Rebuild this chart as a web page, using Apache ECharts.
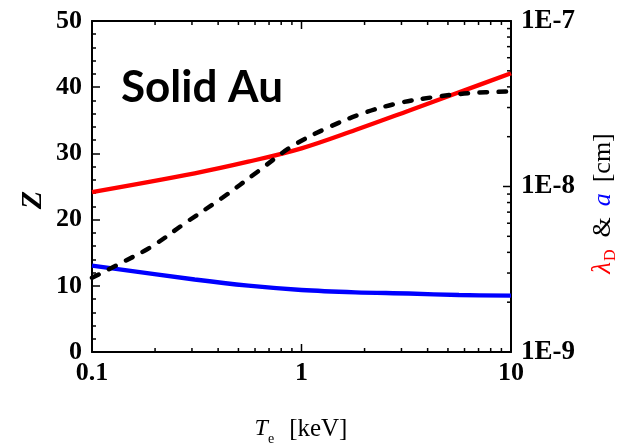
<!DOCTYPE html>
<html>
<head>
<meta charset="utf-8">
<script src="https://cdn.jsdelivr.net/npm/echarts@6/dist/echarts.min.js"></script>
<style>html,body{margin:0;padding:0;background:#fff}#c{width:626px;height:445px}</style>
</head>
<body>
<div id="c"></div>
<script>
// Mean ionization Z vs T_e [keV] (left axis)
const tZ = [0.1, 0.131, 0.192, 0.282, 0.419, 0.615, 0.904, 1.338, 1.982, 2.91, 4.28, 6.31, 10];
const Z  = [11.2, 13.1, 15.9, 19.6, 23.3, 27.2, 31.1, 33.9, 36.1, 37.6, 38.5, 39.1, 39.35];
// Debye length lambda_D and ion sphere radius a [cm] vs T_e [keV] (right axis)
const tL = [0.1, 0.309, 0.557, 1, 1.807, 3.25, 5.65, 10];
const lambdaD = [9.26e-9, 1.202e-8, 1.412e-8, 1.701e-8, 2.195e-8, 2.871e-8, 3.709e-8, 4.83e-8];
const aRadius = [3.324e-9, 2.742e-9, 2.516e-9, 2.370e-9, 2.295e-9, 2.257e-9, 2.21e-9, 2.189e-9];
// Tick values
const xMajor = [0.1, 1, 10];
const xMinor = [0.2,0.3,0.4,0.5,0.6,0.7,0.8,0.9,2,3,4,5,6,7,8,9];
const rMajor = [1e-9, 1e-8, 1e-7];
const rMinor = [2e-9,3e-9,4e-9,5e-9,6e-9,7e-9,8e-9,9e-9,2e-8,3e-8,4e-8,5e-8,6e-8,7e-8,8e-8,9e-8];

const serif = "'Liberation Serif', 'Times New Roman', serif";
const lineStyle = {color: '#000', width: 2};
const chart = echarts.init(document.getElementById('c'));
const pairs = (xs, ys) => xs.map((t, i) => [t, ys[i]]);
const xFmt = v => { const m = {'-1': '0.1', '0': '1', '1': '10'}; return m[String(Math.round(Math.log10(v)))]; };
const rFmt = v => '1E' + Math.round(Math.log10(v));

// ticks drawn through the axes' scales
function xTickSeries(vals, len) {
  return {
    type: 'custom', xAxisIndex: 0, yAxisIndex: 0, silent: true, clip: false, z: 5,
    data: vals.map(v => [v, 0]),
    renderItem: (params, api) => {
      const v = api.value(0);
      const pb = api.coord([v, 0]);
      const pt = api.coord([v, 50]);
      const st = {stroke: '#000', lineWidth: 1.5};
      return {type: 'group', children: [
        {type: 'line', shape: {x1: pb[0], y1: pb[1], x2: pb[0], y2: pb[1] - len}, style: st},
        {type: 'line', shape: {x1: pt[0], y1: pt[1], x2: pt[0], y2: pt[1] + len}, style: st}
      ]};
    }
  };
}
function rTickSeries(vals, len) {
  return {
    type: 'custom', xAxisIndex: 0, yAxisIndex: 1, silent: true, clip: false, z: 5,
    data: vals.map(v => [10, v]),
    renderItem: (params, api) => {
      const p = api.coord([api.value(0), api.value(1)]);
      return {type: 'line', shape: {x1: p[0], y1: p[1], x2: p[0] - len, y2: p[1]}, style: {stroke: '#000', lineWidth: 1.5}};
    }
  };
}

chart.setOption({
  animation: false,
  grid: {left: 92, right: 115, top: 21, bottom: 93, outerBoundsMode: 'none'},
  xAxis: [
    {
      type: 'log', logBase: 10, min: 0.1, max: 10, position: 'bottom',
      splitLine: {show: false},
      axisLine: {show: true, lineStyle: lineStyle},
      axisTick: {show: false},
      axisLabel: {show: true, customValues: xMajor, formatter: xFmt, color: '#000', fontFamily: serif, fontWeight: 'bold', fontSize: 26, margin: 8}
    },
    {
      type: 'log', logBase: 10, min: 0.1, max: 10, position: 'top',
      splitLine: {show: false},
      axisLine: {show: true, lineStyle: lineStyle},
      axisTick: {show: false},
      axisLabel: {show: false}
    }
  ],
  yAxis: [
    {
      type: 'value', min: 0, max: 50, interval: 10, position: 'left',
      splitLine: {show: false},
      axisLine: {show: true, lineStyle: lineStyle},
      axisTick: {show: true, inside: true, length: 8, lineStyle: {color: '#000', width: 1.5}},
      minorTick: {show: true, splitNumber: 5, length: 4, lineStyle: {color: '#000', width: 1.5}},
      axisLabel: {color: '#000', fontFamily: serif, fontWeight: 'bold', fontSize: 26, margin: 10}
    },
    {
      type: 'log', logBase: 10, min: 1e-9, max: 1e-7, position: 'right',
      splitLine: {show: false},
      axisLine: {show: true, lineStyle: lineStyle},
      axisTick: {show: false},
      axisLabel: {show: true, customValues: rMajor, formatter: rFmt, color: '#000', fontFamily: serif, fontWeight: 'bold', fontSize: 27, margin: 10}
    }
  ],
  graphic: [
    {
      type: 'text', left: 121, top: 66, z: 10,
      style: {text: 'Solid Au', font: "bold 44px Lato, 'Liberation Sans', sans-serif", fill: '#000'}
    },
    {
      type: 'text', x: 33, y: 200, rotation: Math.PI / 2, z: 10,
      style: {text: 'Z', font: "italic bold 30px 'Liberation Serif', 'Times New Roman', serif", fill: '#000', align: 'center', verticalAlign: 'middle'}
    },
    {
      type: 'text', x: 603, y: 198, rotation: Math.PI / 2, z: 10,
      style: {
        text: '{l|λ}{s|D}{n|&}{a|a}{n|[cm]}',
        align: 'center', verticalAlign: 'middle',
        rich: {
          l: {fontFamily: serif, fontStyle: 'italic', fontSize: 27, fill: '#ff0000', color: '#ff0000'},
          s: {fontFamily: serif, fontSize: 16, fill: '#ff0000', color: '#ff0000', padding: [16, 12, 0, 1]},
          n: {fontFamily: serif, fontSize: 26, fill: '#000', color: '#000', padding: [0, 11, 0, 0]},
          a: {fontFamily: serif, fontStyle: 'italic', fontSize: 26, fill: '#0000ff', color: '#0000ff', padding: [0, 11, 0, 0]}
        }
      }
    },
    {
      type: 'text', x: 301, y: 429, z: 10,
      style: {
        text: '{t|T}{s|e}{n|[keV]}',
        align: 'center', verticalAlign: 'middle',
        rich: {
          t: {fontFamily: serif, fontStyle: 'italic', fontSize: 24, fill: '#000', color: '#000'},
          s: {fontFamily: serif, fontSize: 14, fill: '#000', color: '#000', padding: [20, 15, 0, 0]},
          n: {fontFamily: serif, fontSize: 25, fill: '#000', color: '#000'}
        }
      }
    }
  ],
  series: [
    {type: 'line', name: 'lambdaD', xAxisIndex: 0, yAxisIndex: 1, data: pairs(tL, lambdaD), smooth: 0.35, showSymbol: false,
     lineStyle: {color: '#ff0000', width: 4.3}},
    {type: 'line', name: 'a', xAxisIndex: 0, yAxisIndex: 1, data: pairs(tL, aRadius), smooth: 0.35, showSymbol: false,
     lineStyle: {color: '#0000ff', width: 4.3}},
    {type: 'line', name: 'Z', xAxisIndex: 0, yAxisIndex: 0, data: pairs(tZ, Z), smooth: 0.35, showSymbol: false,
     lineStyle: {color: '#000', width: 4.5, type: [7.5, 11.5], cap: 'round'}},
    xTickSeries(xMajor, 8),
    xTickSeries(xMinor, 4),
    rTickSeries(rMajor, 8),
    rTickSeries(rMinor, 4)
  ]
});
</script>
</body>
</html>
